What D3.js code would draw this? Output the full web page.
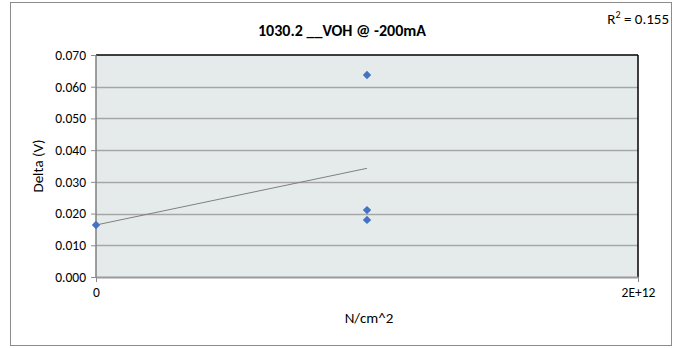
<!DOCTYPE html>
<html><head><meta charset="utf-8">
<script src="https://cdn.jsdelivr.net/npm/d3@7"></script>
<style>
html,body{margin:0;padding:0;background:#fff;}
text{font-family:Carlito,Calibri,Lato,"Open Sans",sans-serif;fill:#000;}
</style></head>
<body><svg id="c" width="675" height="348"></svg>
<script>
const title = "1030.2 __VOH @ -200mA";
const xTitle = "N/cm^2";
const yTitle = "Delta (V)";
const xValues = [0, 1e12, 1e12, 1e12];
const yValues = [0.0164, 0.0637, 0.0211, 0.0180];
const yTicks = [0, 0.01, 0.02, 0.03, 0.04, 0.05, 0.06, 0.07];
const xTicks = [0, 2e12];
const xTickLabels = ["0", "2E+12"];

const svg = d3.select("#c");
const m = {left: 96, right: 638, top: 55, bottom: 277};

svg.append("rect").attr("x", 10.5).attr("y", 2.5).attr("width", 661).attr("height", 343)
  .attr("fill", "#fff").attr("stroke", "#8c8c8c").attr("stroke-width", 1);

const x = d3.scaleLinear().domain([0, 2e12]).range([m.left, m.right]);
const y = d3.scaleLinear().domain([0, 0.07]).range([m.bottom, m.top]);

svg.append("rect").attr("x", m.left).attr("y", m.top)
  .attr("width", m.right - m.left).attr("height", m.bottom - m.top)
  .attr("fill", "#E5EBEB");

// gridlines
svg.append("g").selectAll("line").data(yTicks.slice(1, -1)).join("line")
  .attr("x1", m.left).attr("x2", m.right)
  .attr("y1", d => Math.round(y(d)) + 0.5).attr("y2", d => Math.round(y(d)) + 0.5)
  .attr("stroke", "#A6A6A6").attr("stroke-width", 1.4);

// plot borders
svg.append("line").attr("x1", m.left).attr("x2", m.right).attr("y1", m.top).attr("y2", m.top)
  .attr("stroke", "#000").attr("stroke-width", 1.5);
svg.append("line").attr("x1", m.right).attr("x2", m.right).attr("y1", m.top).attr("y2", m.bottom)
  .attr("stroke", "#000").attr("stroke-width", 1.5);
svg.append("line").attr("x1", m.left).attr("x2", m.left).attr("y1", m.top).attr("y2", m.bottom)
  .attr("stroke", "#7f7f7f").attr("stroke-width", 1.5);
svg.append("line").attr("x1", m.left).attr("x2", m.right).attr("y1", m.bottom + 0.5).attr("y2", m.bottom + 0.5)
  .attr("stroke", "#9a9a9a").attr("stroke-width", 2);

// axes
const yAxis = d3.axisLeft(y).tickValues(yTicks).tickFormat(d3.format(".3f")).tickSize(5).tickPadding(5);
const gy = svg.append("g").attr("transform", `translate(${m.left},0)`).call(yAxis);
gy.select(".domain").remove();
gy.selectAll("line").attr("stroke", "#8c8c8c");
gy.selectAll("text").style("font-size", "13.5px").attr("fill", "#000");

const xAxis = d3.axisBottom(x).tickValues(xTicks).tickFormat((d, i) => xTickLabels[i]).tickSize(5).tickPadding(5);
const gx = svg.append("g").attr("transform", `translate(0,${m.bottom})`).call(xAxis);
gx.select(".domain").remove();
gx.selectAll("line").attr("stroke", "#8c8c8c");
gx.selectAll("text").style("font-size", "13.5px").attr("fill", "#000");

// trendline via linear regression
const n = xValues.length;
const mx = d3.mean(xValues), my = d3.mean(yValues);
let sxy = 0, sxx = 0;
for (let i = 0; i < n; i++) { sxy += (xValues[i] - mx) * (yValues[i] - my); sxx += (xValues[i] - mx) ** 2; }
const slope = sxy / sxx, icpt = my - slope * mx;
let ssr = 0, sst = 0;
for (let i = 0; i < n; i++) { ssr += (yValues[i] - (icpt + slope * xValues[i])) ** 2; sst += (yValues[i] - my) ** 2; }
const r2 = 1 - ssr / sst;
const x0 = d3.min(xValues), x1 = d3.max(xValues);
svg.append("line").attr("x1", x(x0)).attr("y1", y(icpt + slope * x0))
  .attr("x2", x(x1)).attr("y2", y(icpt + slope * x1))
  .attr("stroke", "#7f7f7f").attr("stroke-width", 1);

// points
svg.append("g").selectAll("path").data(xValues.map((d, i) => [d, yValues[i]])).join("path")
  .attr("d", d3.symbol(d3.symbolDiamond2, 45))
  .attr("transform", d => `translate(${x(d[0])},${y(d[1])})`)
  .attr("fill", "#4472C4");

// text
svg.append("text").attr("x", 342).attr("y", 36).attr("text-anchor", "middle")
  .style("font-size", "16px").style("font-weight", "bold").text(title);
svg.append("text").attr("x", 669).attr("y", 24).attr("text-anchor", "end")
  .style("font-size", "15px").html("R<tspan font-size='10px' dy='-6'>2</tspan><tspan dy='6'> = " + r2.toFixed(3) + "</tspan>");
svg.append("text").attr("x", 369).attr("y", 323).attr("text-anchor", "middle")
  .style("font-size", "15px").text(xTitle);
svg.append("text").attr("transform", "translate(43,166) rotate(-90)").attr("text-anchor", "middle")
  .style("font-size", "15px").text(yTitle);
</script></body></html>
